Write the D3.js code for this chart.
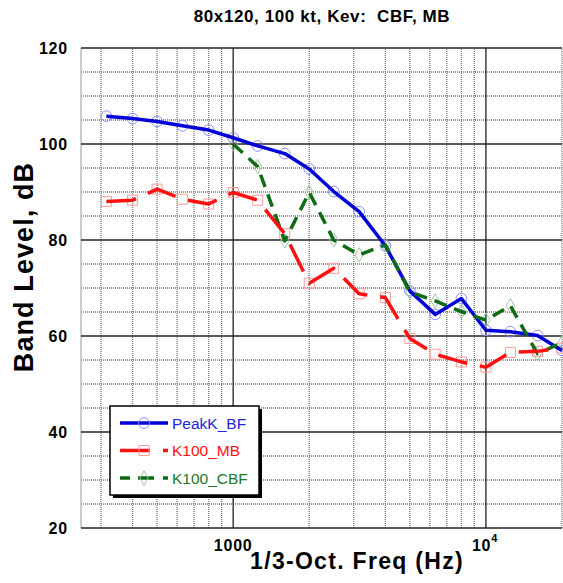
<!DOCTYPE html>
<html><head><meta charset="utf-8">
<script src="https://cdn.jsdelivr.net/npm/d3@7"></script>
<style>
html,body{margin:0;padding:0;background:#fff;}
svg{display:block;}
text{font-family:Arial,"Liberation Sans",Helvetica,sans-serif;}
</style></head>
<body>
<svg id="chart" width="563" height="583"></svg>
<script>
// ---- data ----
const freqs = [315,400,500,630,800,1000,1250,1600,2000,2500,3150,4000,5000,6300,8000,10000,12500,16000,20000];
const peakK_BF = [105.8,105.3,104.7,103.8,102.9,101.3,99.6,98.0,94.8,90.1,85.9,78.8,69.4,64.5,67.8,61.2,60.9,60.1,57.0];
const k100_MB  = [88.0,88.3,90.6,88.5,87.5,89.9,88.3,81.3,71.0,74.1,68.8,68.0,59.5,56.2,54.6,53.5,56.6,56.8,57.5];
const k100_CBF = [null,null,null,null,null,100.0,95.3,79.8,89.9,80.0,76.9,79.0,69.2,67.3,65.1,63.3,66.3,56.3,58.6];
const seriesNames = ["PeakK_BF","K100_MB","K100_CBF"];
const yTicks = [20,40,60,80,100,120];
const titleText = "80x120, 100 kt, Kev:  CBF, MB";
const xLabel = "1/3-Oct. Freq (Hz)";
const yLabel = "Band Level, dB";

// ---- layout ----
const svg = d3.select("#chart");
const x = d3.scaleLog().domain([250, 20000]).range([81, 562]);
const y = d3.scaleLinear().domain([20, 120]).range([528, 48]);

const g = svg.append("g");

// horizontal grid
const hMinor = d3.range(20, 121, 5).filter(v => v % 20 !== 0);
g.selectAll(".hmin").data(hMinor).enter().append("line")
  .attr("x1", x.range()[0]).attr("x2", x.range()[1])
  .attr("y1", d => y(d)).attr("y2", d => y(d))
  .attr("stroke", "#777").attr("stroke-width", 1.3).attr("stroke-dasharray", "1,1");
// vertical minor grid
const vMinor = [300,400,500,600,700,800,900,2000,3000,4000,5000,6000,7000,8000,9000,20000];
g.selectAll(".vmin").data(vMinor).enter().append("line")
  .attr("x1", d => x(d)).attr("x2", d => x(d))
  .attr("y1", y(20)).attr("y2", y(120))
  .attr("stroke", "#777").attr("stroke-width", 1.3).attr("stroke-dasharray", "1,1");
// left axis line (light)
g.append("line").attr("x1", x(250)).attr("x2", x(250)).attr("y1", y(20)).attr("y2", y(120))
  .attr("stroke", "#bbb").attr("stroke-width", 1.5);
// major horizontal
g.selectAll(".hmaj").data(yTicks).enter().append("line")
  .attr("x1", x.range()[0]).attr("x2", x.range()[1])
  .attr("y1", d => y(d)).attr("y2", d => y(d))
  .attr("stroke", "#222").attr("stroke-width", 1.3);
// major vertical
g.selectAll(".vmaj").data([1000, 10000]).enter().append("line")
  .attr("x1", d => x(d)).attr("x2", d => x(d))
  .attr("y1", y(20)).attr("y2", y(120))
  .attr("stroke", "#222").attr("stroke-width", 1.3);

// y tick labels
g.selectAll(".ytl").data(yTicks).enter().append("text")
  .attr("x", 68).attr("y", d => y(d) + 6)
  .attr("text-anchor", "end").attr("font-size", 16).attr("font-weight", "bold")
  .attr("letter-spacing", 0.8)
  .text(d => d);

// x tick labels
g.append("text").attr("x", x(1000)).attr("y", 551).attr("text-anchor", "middle")
  .attr("font-size", 16).attr("font-weight", "bold").attr("letter-spacing", 0.8).text("1000");
const t4 = g.append("text").attr("x", x(10000) - 14).attr("y", 551)
  .attr("font-size", 16).attr("font-weight", "bold").attr("letter-spacing", 0.8);
t4.append("tspan").text("10");
t4.append("tspan").attr("dy", -9).attr("font-size", 11).text("4");

// titles
g.append("text").attr("x", 322).attr("y", 22).attr("text-anchor", "middle")
  .attr("font-size", 17).attr("font-weight", "bold").attr("letter-spacing", 0.6)
  .style("white-space", "pre").text(titleText);
g.append("text").attr("x", 357).attr("y", 569).attr("text-anchor", "middle")
  .attr("font-size", 23).attr("font-weight", "bold").attr("letter-spacing", 1.3)
  .text(xLabel);
g.append("text").attr("transform", "translate(33,267) rotate(-90)").attr("text-anchor", "middle")
  .attr("font-size", 27).attr("font-weight", "bold").attr("letter-spacing", 1.1)
  .text(yLabel);

// series
const series = [
  {name: seriesNames[0], vals: peakK_BF, color: "#0000d8", mcol: "#8a8aff", dash: null, marker: "circle"},
  {name: seriesNames[2], vals: k100_CBF, color: "#0f6b14", mcol: "#9cc79c", dash: "13,8", marker: "diamond"},
  {name: seriesNames[1], vals: k100_MB, color: "#ff1010", mcol: "#ff9a9a", dash: "30,13", marker: "square"}
];
const line = d3.line().defined(d => d[1] != null).x(d => x(d[0])).y(d => y(d[1]));
const sym = {circle: d3.symbolCircle, square: d3.symbolSquare, diamond: d3.symbolDiamond};
const symSize = {circle: 90, square: 100, diamond: 60};

series.forEach(s => {
  const pts = freqs.map((f, i) => [f, s.vals[i]]).filter(d => d[1] != null);
  g.append("g").selectAll("path").data(pts).enter().append("path")
    .attr("transform", d => `translate(${x(d[0])},${y(d[1])})`)
    .attr("d", d3.symbol().type(sym[s.marker]).size(symSize[s.marker]))
    .attr("fill", "none").attr("stroke", s.mcol).attr("stroke-width", 1);
});
series.forEach(s => {
  const pts = freqs.map((f, i) => [f, s.vals[i]]).filter(d => d[1] != null);
  g.append("path").datum(pts).attr("d", line)
    .attr("fill", "none").attr("stroke", s.color).attr("stroke-width", 3.5)
    .attr("stroke-linejoin", "round")
    .attr("stroke-dasharray", s.dash);
});

// legend
const lg = svg.append("g");
lg.append("rect").attr("x", 113).attr("y", 409).attr("width", 149).attr("height", 89).attr("fill", "#000");
lg.append("rect").attr("x", 110).attr("y", 406).attr("width", 149).attr("height", 89)
  .attr("fill", "#fff").attr("stroke", "#000").attr("stroke-width", 1.5);
const legItems = [
  {name: seriesNames[0], color: "#0000d8", tcol: "#2222e0", mcol: "#8a8aff", dash: null, marker: "circle"},
  {name: seriesNames[1], color: "#ff1010", tcol: "#ff1010", mcol: "#ff9a9a", dash: "30,13", marker: "square"},
  {name: seriesNames[2], color: "#0f6b14", tcol: "#1c7a24", mcol: "#9cc79c", dash: "10,8,16,9", marker: "diamond"}
];
legItems.forEach((s, i) => {
  const ly = 423 + i * 27.5;
  lg.append("line").attr("x1", 120).attr("x2", 168).attr("y1", ly).attr("y2", ly)
    .attr("stroke", s.color).attr("stroke-width", 3.5).attr("stroke-dasharray", s.dash);
  lg.append("path").attr("transform", `translate(144,${ly})`)
    .attr("d", d3.symbol().type(sym[s.marker]).size(symSize[s.marker]))
    .attr("fill", "none").attr("stroke", s.mcol).attr("stroke-width", 1);
  lg.append("text").attr("x", 172).attr("y", ly + 5.5).attr("font-size", 15.5)
    .attr("fill", s.tcol).text(s.name);
});
</script>
</body></html>
